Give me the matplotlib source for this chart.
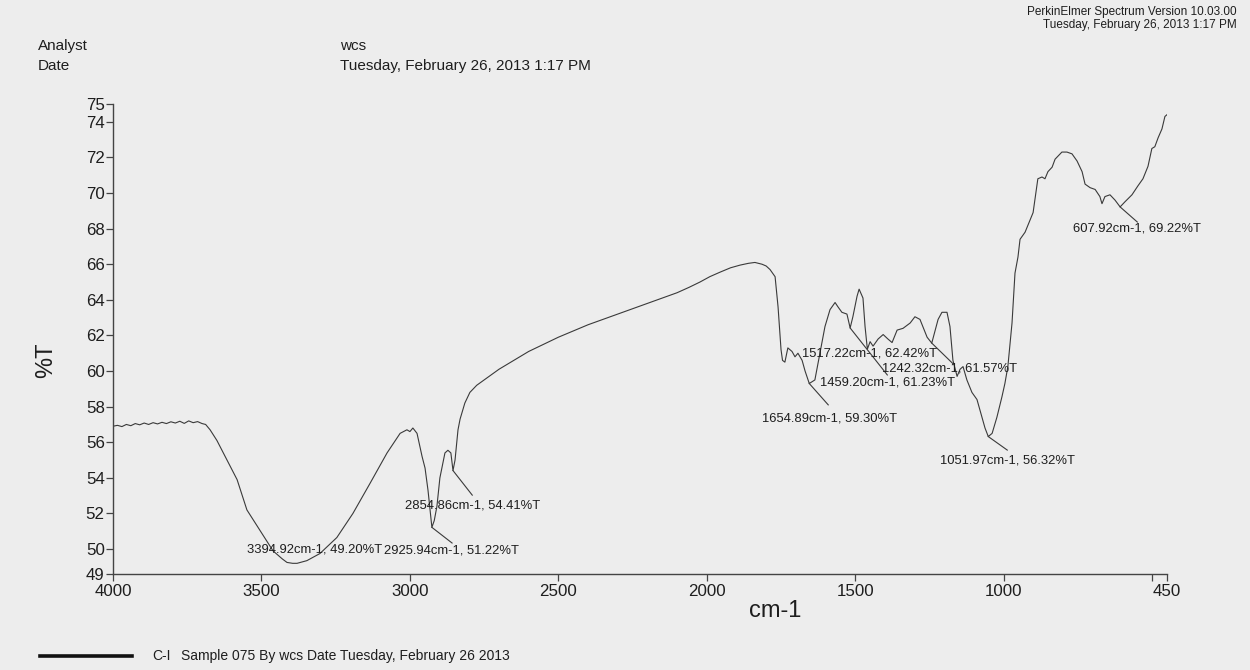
import matplotlib
matplotlib.use("Agg")
import matplotlib.pyplot as plt
from matplotlib.ticker import FormatStrFormatter

# Spectrum, C-I sample 075 (wavenumber in cm-1, transmittance in %T)
wavenumber = [
    4000, 3985, 3970, 3955, 3940, 3925, 3910, 3895, 3880, 3865, 3850, 3835,
    3820, 3805, 3790, 3775, 3760, 3745, 3730, 3715, 3700, 3688, 3673, 3650,
    3616, 3582, 3549, 3505, 3461, 3430, 3414, 3394.92, 3380, 3347, 3303, 3246,
    3192, 3134, 3077, 3033, 3010, 3000, 2990, 2976, 2959, 2949, 2939, 2932,
    2925.94, 2918, 2909, 2899, 2882, 2872, 2862, 2854.86, 2848, 2838, 2831,
    2815, 2798, 2775, 2754, 2700, 2650, 2600, 2550, 2500, 2450, 2400, 2350,
    2300, 2250, 2200, 2150, 2100, 2060, 2023, 1990, 1956, 1920, 1888, 1860,
    1838, 1814, 1800, 1787, 1770, 1760, 1750, 1745, 1737, 1727, 1713, 1703,
    1693, 1679, 1669, 1654.89, 1636, 1619, 1602, 1585, 1568, 1558, 1545, 1528,
    1517.22, 1508, 1494, 1487, 1474, 1467, 1459.20, 1450, 1440, 1423, 1406,
    1390, 1376, 1359, 1339, 1315, 1299, 1282, 1258, 1242.32, 1221, 1208, 1191,
    1181, 1171, 1157, 1147, 1137, 1124, 1107, 1090, 1073, 1063, 1051.97, 1039,
    1023, 1006, 996, 986, 972, 962, 952, 945, 928, 901, 885, 871, 861, 851,
    837, 827, 804, 787, 770, 753, 736, 726, 709, 692, 676, 669, 659, 642, 625,
    607.92, 592, 568, 548, 531, 514, 501, 491, 480, 467, 457, 450,
]
transmittance = [
    56.90, 56.95, 56.88, 57.00, 56.93, 57.05, 56.98, 57.08, 57.00, 57.10, 57.03,
    57.12, 57.05, 57.15, 57.08, 57.18, 57.06, 57.20, 57.10, 57.16, 57.05, 57.00,
    56.70, 56.10, 55.00, 53.90, 52.20, 51.05, 49.90, 49.45, 49.25, 49.20, 49.20,
    49.35, 49.75, 50.65, 52.00, 53.70, 55.40, 56.50, 56.70, 56.60, 56.80, 56.50,
    55.20, 54.55, 53.30, 52.20, 51.22, 51.60, 52.40, 54.00, 55.40, 55.55, 55.40,
    54.41, 55.00, 56.70, 57.30, 58.20, 58.80, 59.20, 59.45, 60.10, 60.60, 61.10,
    61.50, 61.90, 62.25, 62.60, 62.90, 63.20, 63.50, 63.80, 64.10, 64.40, 64.70,
    65.00, 65.30, 65.55, 65.80, 65.95, 66.05, 66.10, 66.00, 65.90, 65.70, 65.30,
    63.60, 61.20, 60.60, 60.50, 61.30, 61.10, 60.80, 61.00, 60.60, 60.00, 59.30,
    59.50, 61.00, 62.50, 63.45, 63.85, 63.60, 63.30, 63.20, 62.42, 63.05, 64.20,
    64.60, 64.10, 62.50, 61.23, 61.65, 61.40, 61.80, 62.05, 61.80, 61.60, 62.30,
    62.40, 62.70, 63.05, 62.90, 61.90, 61.57, 62.90, 63.30, 63.30, 62.50, 60.60,
    59.70, 60.10, 60.25, 59.50, 58.80, 58.40, 57.40, 56.80, 56.32, 56.50, 57.40,
    58.55, 59.30, 60.25, 62.70, 65.50, 66.40, 67.40, 67.80, 68.90, 70.80, 70.90,
    70.80, 71.20, 71.45, 71.90, 72.30, 72.30, 72.20, 71.80, 71.20, 70.50, 70.30,
    70.20, 69.80, 69.40, 69.80, 69.90, 69.60, 69.22, 69.50, 69.90, 70.40, 70.80,
    71.50, 72.50, 72.60, 73.10, 73.60, 74.30, 74.40,
]

# Labelled minima
peak_wavenumber = [3394.92, 2925.94, 2854.86, 1654.89, 1517.22, 1459.20,
                   1242.32, 1051.97, 607.92]
peak_transmittance = [49.20, 51.22, 54.41, 59.30, 62.42, 61.23, 61.57, 56.32,
                      69.22]

x_ticks = [4000, 3500, 3000, 2500, 2000, 1500, 1000, 500, 450]
x_tick_labels = ["4000", "3500", "3000", "2500", "2000", "1500", "1000", "", "450"]
y_ticks = [48.6, 50, 52, 54, 56, 58, 60, 62, 64, 66, 68, 70, 72, 74, 75]

SANS = ["Liberation Sans", "DejaVu Sans"]
PAPER = "#ededed"
INK = "#1e1e1e"

# label anchor (left edge, vertical centre) and end point of the leader line
label_layout = [
    ((3548, 50.00), None),
    ((3087, 49.94), (2858, 50.34)),
    ((3016, 52.47), (2790, 53.03)),
    ((1813, 57.36), (1591, 58.10)),
    ((1679, 61.00), (1392, 59.78)),
    ((1618, 59.33), None),
    ((1409, 60.17), (1170, 60.40)),
    ((1214, 55.00), (988, 55.56)),
    ((765, 68.03), (550, 68.37)),
]

fig = plt.figure(figsize=(12.5, 6.7), dpi=100, facecolor=PAPER)
ax = fig.add_axes([113 / 1250, 1 - 574 / 670, (1167 - 113) / 1250, (574 - 104) / 670])
ax.set_facecolor(PAPER)

ax.plot(wavenumber, transmittance, color="#3a3a3a", lw=0.8)

for w, t, ((tx, ty), end) in zip(peak_wavenumber, peak_transmittance, label_layout):
    if end is not None:
        ax.plot([w, end[0]], [t, end[1]], color="#3a3a3a", lw=0.8)
    ax.text(tx, ty, f"{w:.2f}cm-1, {t:.2f}%T", ha="left", va="center",
            fontsize=9.4, family=SANS, color=INK)

ax.set_xlim(4000, 450)
ax.set_ylim(48.6, 75.0)
ax.set_xticks(x_ticks)
ax.set_xticklabels(x_tick_labels)
ax.set_yticks(y_ticks)
ax.yaxis.set_major_formatter(FormatStrFormatter("%.0f"))

for side in ("top", "right"):
    ax.spines[side].set_visible(False)
for side in ("left", "bottom"):
    ax.spines[side].set_color("#444444")
    ax.spines[side].set_linewidth(1.0)

ax.tick_params(axis="both", direction="out", length=5, width=0.9,
               color="#444444", labelcolor=INK)
ax.tick_params(axis="y", pad=1)
ax.tick_params(axis="x", pad=2)
for lbl in ax.get_xticklabels() + ax.get_yticklabels():
    lbl.set_family(SANS)
    lbl.set_fontsize(12.2)

ax.set_xlabel("cm-1", fontsize=17, family=SANS, color=INK)
ax.xaxis.set_label_coords((775 - 113) / (1167 - 113), -(600 - 574) / (574 - 104))
ax.set_ylabel("%T", fontsize=17, family=SANS, color=INK)
ax.yaxis.set_label_coords(-(113 - 57) / (1167 - 113), (574 - 360) / (574 - 104))

# Report header
fig.text(38 / 1250, 1 - 46 / 670, "Analyst", fontsize=11, family=SANS,
         color=INK, va="center")
fig.text(38 / 1250, 1 - 66 / 670, "Date", fontsize=11, family=SANS,
         color=INK, va="center")
fig.text(340 / 1250, 1 - 46 / 670, "wcs", fontsize=11, family=SANS,
         color=INK, va="center")
fig.text(340 / 1250, 1 - 66 / 670, "Tuesday, February 26, 2013 1:17 PM",
         fontsize=11, family=SANS, color=INK, va="center")
fig.text(1237 / 1250, 1 - 12 / 670, "PerkinElmer Spectrum Version 10.03.00",
         fontsize=8.5, family=SANS, color=INK, va="center", ha="right")
fig.text(1237 / 1250, 1 - 25 / 670, "Tuesday, February 26, 2013 1:17 PM",
         fontsize=8.5, family=SANS, color=INK, va="center", ha="right")

# Legend line at the foot of the report
fig.add_artist(plt.Line2D([40 / 1250, 132 / 1250], [1 - 656 / 670] * 2,
                          color="#111111", lw=2.6, transform=fig.transFigure))
fig.text(152 / 1250, 1 - 656 / 670, "C-I", fontsize=10, family=SANS,
         color=INK, va="center")
fig.text(181 / 1250, 1 - 656 / 670,
         "Sample 075 By wcs Date Tuesday, February 26 2013",
         fontsize=10, family=SANS, color=INK, va="center")

fig.savefig("out.png", dpi=100, facecolor=PAPER)
